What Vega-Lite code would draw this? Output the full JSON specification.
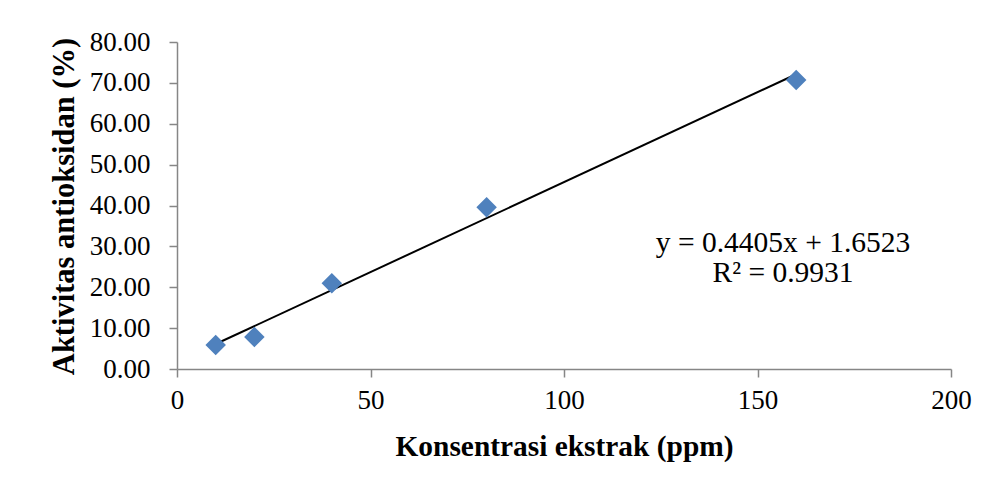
{
  "$schema": "https://vega.github.io/schema/vega-lite/v6.json",
  "width": 774,
  "height": 327,
  "autosize": {"type": "none"},
  "padding": {"left": 177, "top": 42, "right": 38, "bottom": 117},
  "background": "white",
  "config": {
    "view": {"stroke": null},
    "font": "Liberation Serif",
    "axis": {
      "grid": false,
      "domainColor": "#868686",
      "domainWidth": 1.5,
      "tickColor": "#868686",
      "tickWidth": 1.5,
      "tickSize": 8,
      "labelFont": "Liberation Serif",
      "labelFontSize": 27,
      "labelColor": "black",
      "labelFlush": false,
      "titleFont": "Liberation Serif",
      "titleFontWeight": "bold",
      "titleColor": "black"
    }
  },
  "layer": [
    {
      "data": {"name": "pts", "values": [
        {"konsentrasi": 10, "aktivitas": 5.85},
        {"konsentrasi": 20, "aktivitas": 7.8},
        {"konsentrasi": 40, "aktivitas": 21.0},
        {"konsentrasi": 80, "aktivitas": 39.6},
        {"konsentrasi": 160, "aktivitas": 70.7}
      ]},
      "layer": [
        {
          "transform": [{"regression": "aktivitas", "on": "konsentrasi"}],
          "mark": {"type": "line", "color": "black", "strokeWidth": 2},
          "encoding": {
            "x": {"field": "konsentrasi", "type": "quantitative"},
            "y": {"field": "aktivitas", "type": "quantitative"}
          }
        },
        {
          "mark": {"type": "point", "shape": "diamond", "filled": true, "color": "#4F81BD", "opacity": 1, "size": 420},
          "encoding": {
            "x": {
              "field": "konsentrasi",
              "type": "quantitative",
              "scale": {"domain": [0, 200], "nice": false},
              "axis": {
                "values": [0, 50, 100, 150, 200],
                "labelPadding": 10,
                "title": "Konsentrasi ekstrak (ppm)",
                "titleFontSize": 29.4,
                "titleY": 86,
                "titleBaseline": "alphabetic"
              }
            },
            "y": {
              "field": "aktivitas",
              "type": "quantitative",
              "scale": {"domain": [0, 80], "nice": false},
              "axis": {
                "values": [0, 10, 20, 30, 40, 50, 60, 70, 80],
                "format": ".2f",
                "labelPadding": 19,
                "title": "Aktivitas antioksidan (%)",
                "titleFontSize": 30.5,
                "titleX": -104,
                "titleY": 164,
                "titleAlign": "center",
                "titleBaseline": "alphabetic"
              }
            }
          }
        }
      ]
    },
    {
      "data": {"values": [{"eq": "y = 0.4405x + 1.6523", "r2": "R² = 0.9931"}]},
      "mark": {"type": "text", "fontSize": 29.5, "font": "Liberation Serif", "fontWeight": "normal", "align": "center", "baseline": "alphabetic", "lineHeight": 30, "color": "black"},
      "encoding": {
        "x": {"datum": 156.6},
        "y": {"datum": 28.6},
        "text": {"value": ["y = 0.4405x + 1.6523", "R² = 0.9931"]}
      }
    }
  ]
}
